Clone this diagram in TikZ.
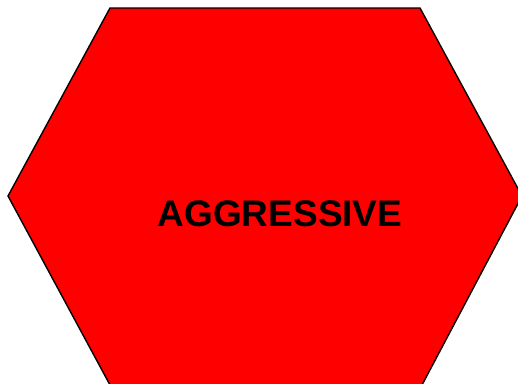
\documentclass[tikz,border=0pt]{standalone}
\usepackage{fontspec}
\setmainfont{Liberation Sans}
\usepackage{xcolor}
\definecolor{stopred}{RGB}{255,0,0}

\begin{document}
\begin{tikzpicture}[
  x=1pt, y=-1pt,
  hexa/.style={draw=black, line width=1.4pt, fill=stopred, line join=miter},
  lbl/.style={font=\fontsize{37}{40}\selectfont\bfseries, text=black, inner sep=0pt}
]
  \useasboundingbox (0,0) rectangle (518,383);
  % hexagon, partly cut off at the right and bottom edge
  \coordinate (tl) at (110,8);
  \coordinate (tr) at (420,8);
  \coordinate (rt) at (522,196);
  \coordinate (br) at (422,385);
  \coordinate (bl) at (110,385);
  \coordinate (lf) at (8,196);
  \draw[hexa] (tl) -- (tr) -- (rt) -- (br) -- (bl) -- (lf) -- cycle;

  \node[lbl] (aggr) at (280,214) {AGGRESSIVE};
\end{tikzpicture}
\end{document}
